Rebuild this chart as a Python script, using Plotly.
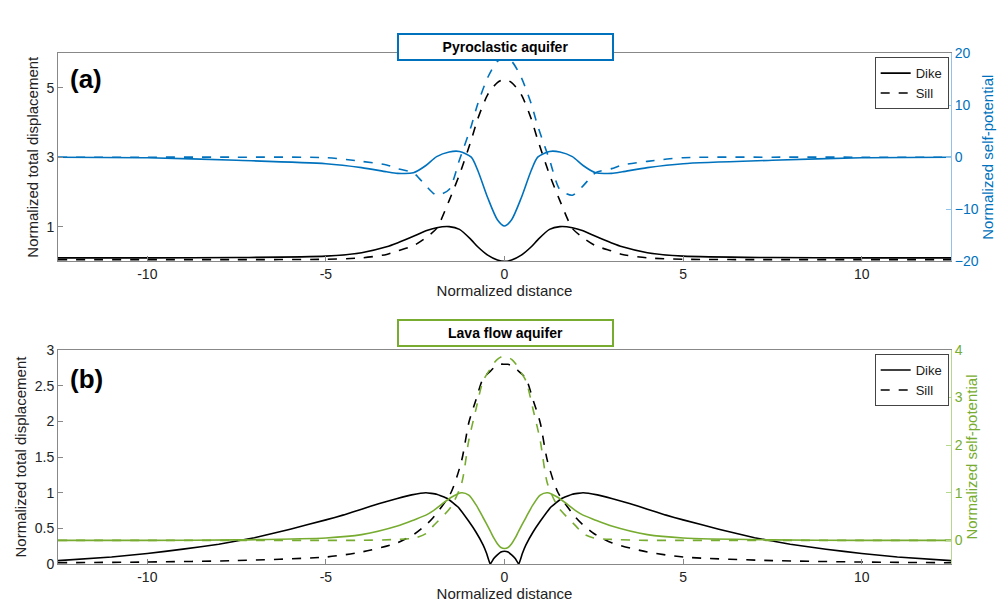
import plotly.graph_objects as go

# ---- panel (a): pyroclastic aquifer (left half, mirrored about x=0) ----
xa = [-12.5, -10, -7.5, -5, -4, -3.3, -3, -2.55, -2.2, -1.9, -1.55, -1.26, -0.93, -0.75, -0.47, -0.2, 0]
dike_a = [0.1, 0.1, 0.11, 0.15, 0.25, 0.42, 0.53, 0.72, 0.88, 0.97, 1.0, 0.92, 0.62, 0.42, 0.18, 0.04, 0.0]
sill_a = [0.05, 0.05, 0.05, 0.06, 0.1, 0.2, 0.3, 0.45, 0.68, 0.95, 1.75, 2.5, 3.5, 4.1, 4.8, 5.15, 5.24]
sp_dike_a = [0.0, -0.1, -0.6, -1.25, -2.0, -2.8, -3.1, -3.0, -1.6, 0.1, 1.0, 1.1, 0.0, -2.5, -7.8, -12.0, -13.2]
sp_sill_a = [0.0, 0.0, 0.0, -0.1, -0.8, -1.5, -2.2, -3.0, -5.5, -7.3, -6.2, -0.5, 6.0, 10.2, 15.3, 18.4, 19.0]

# ---- panel (b): lava flow aquifer ----
xb = [-12.5, -10, -7.5, -5, -4, -3, -2.5, -2.2, -2, -1.5, -1.2, -1.0, -0.8, -0.6, -0.4, -0.3, -0.2, -0.1, 0]
sill_b = [0.02, 0.03, 0.05, 0.1, 0.17, 0.3, 0.43, 0.55, 0.65, 1.0, 1.45, 1.98, 2.3, 2.6, 2.7, 2.75, 2.78, 2.8, 2.8]
sp_dike_b = [0.0, 0.0, 0.01, 0.05, 0.12, 0.3, 0.44, 0.53, 0.62, 0.9, 1.0, 0.95, 0.75, 0.48, 0.2, 0.05, -0.07, -0.15, -0.17]
sp_sill_b = [0.0, 0.0, 0.0, 0.0, 0.0, 0.02, 0.05, 0.14, 0.3, 0.7, 1.2, 2.1, 2.75, 3.35, 3.6, 3.72, 3.8, 3.85, 3.86]
xb_dike = [-12.5, -11, -10, -9, -8, -7, -6, -5, -4.5, -4, -3.5, -3, -2.6, -2.2, -1.9, -1.6, -1.3,
           -1.0, -0.8, -0.6, -0.5, -0.4, -0.3, -0.2, -0.1, 0]
dike_b = [0.05, 0.1, 0.15, 0.21, 0.28, 0.37, 0.49, 0.62, 0.69, 0.77, 0.85, 0.92, 0.97, 1.0, 0.98, 0.92,
          0.8, 0.6, 0.45, 0.27, 0.15, 0.0, 0.08, 0.13, 0.17, 0.18]


def mirror(x, y):
    return x + [-v for v in x[::-1]][1:], y + y[::-1][1:]


BLUE = '#0072BD'
GREEN = '#77AC30'
FONT = 'Liberation Sans, Arial, sans-serif'

fig = go.Figure()


def add(x, y, xax, yax, color, dash, smooth=0.7):
    mx, my = mirror(x, y)
    fig.add_trace(go.Scatter(x=mx, y=my, mode='lines', xaxis=xax, yaxis=yax,
                             line=dict(color=color, width=1.6, dash=dash, shape='spline', smoothing=smooth),
                             showlegend=False, hoverinfo='skip'))


add(xa, dike_a, 'x', 'y', 'black', 'solid')
add(xa, sill_a, 'x', 'y', 'black', 'dash')
add(xa, sp_dike_a, 'x', 'y2', BLUE, 'solid')
add(xa, sp_sill_a, 'x', 'y2', BLUE, 'dash')
add(xb_dike, dike_b, 'x2', 'y3', 'black', 'solid', 0.3)
add(xb, sill_b, 'x2', 'y3', 'black', 'dash')
add(xb, sp_dike_b, 'x2', 'y4', GREEN, 'solid')
add(xb, sp_sill_b, 'x2', 'y4', GREEN, 'dash')

# legend entries
for leg, xax, yax in [('legend', 'x', 'y'), ('legend2', 'x2', 'y3')]:
    for name, dash in [('Dike', 'solid'), ('Sill', 'dash')]:
        fig.add_trace(go.Scatter(x=[None], y=[None], mode='lines', name=name, legend=leg,
                                 xaxis=xax, yaxis=yax, line=dict(color='black', width=1.6, dash=dash)))

xd = [50 / 1005, 943 / 1005]
da = [1 - 252 / 607, 1 - 38 / 607]
db = [1 - 563 / 607, 1 - 343 / 607]

xcommon = dict(range=[-12.5, 12.5], tickvals=[-10, -5, 0, 5, 10], ticktext=['-10', '-5', '0', '5', '10'],
               ticks='inside', ticklen=5, showgrid=False, zeroline=False, showline=True,
               linecolor='#888', mirror=True, tickcolor='#888', domain=xd,
               title=dict(text='Normalized distance', standoff=2, font=dict(size=15)))
ycommon = dict(ticks='inside', ticklen=5, showgrid=False, zeroline=False, showline=True,
               linecolor='#888', tickcolor='#888')

fig.update_layout(
    width=1005, height=607, margin=dict(l=0, r=0, t=0, b=0),
    plot_bgcolor='white', paper_bgcolor='white',
    font=dict(family=FONT, size=14, color='#222'),
    xaxis=dict(xcommon, anchor='y'),
    xaxis2=dict(xcommon, anchor='y3'),
    yaxis=dict(ycommon, domain=da, range=[0, 6], tickvals=[1, 3, 5], anchor='x',
               title=dict(text='Normalized total displacement', font=dict(size=15), standoff=4)),
    yaxis2=dict(ycommon, overlaying='y', side='right', anchor='x', range=[-20, 20],
                tickvals=[-20, -10, 0, 10, 20], linecolor='#8fc3ea', tickcolor='#8fc3ea',
                tickfont=dict(color=BLUE),
                title=dict(text='Normalized self-potential', font=dict(size=15, color=BLUE), standoff=4)),
    yaxis3=dict(ycommon, domain=db, range=[0, 3], tickvals=[0, 0.5, 1, 1.5, 2, 2.5, 3],
                ticktext=['0', '0.5', '1', '1.5', '2', '2.5', '3'], anchor='x2',
                title=dict(text='Normalized total displacement', font=dict(size=15), standoff=4)),
    yaxis4=dict(ycommon, overlaying='y3', side='right', anchor='x2', range=[-0.5, 4],
                tickvals=[0, 1, 2, 3, 4], linecolor='#b5d98c', tickcolor='#b5d98c',
                tickfont=dict(color=GREEN),
                title=dict(text='Normalized self-potential', font=dict(size=15, color=GREEN), standoff=4)),
    legend=dict(x=0.936, y=da[1] - 0.007, xanchor='right', yanchor='top', bgcolor='white',
                bordercolor='#444', borderwidth=1, font=dict(size=13), tracegroupgap=0,
                itemwidth=30),
    legend2=dict(x=0.936, y=db[1] - 0.007, xanchor='right', yanchor='top', bgcolor='white',
                 bordercolor='#444', borderwidth=1, font=dict(size=13), tracegroupgap=0,
                 itemwidth=30),
    annotations=[
        dict(text='<b>Pyroclastic aquifer</b>', x=0.495, y=1 - 17 / 607, xref='paper', yref='paper',
             showarrow=False, font=dict(size=14, color='black'), bordercolor=BLUE, borderwidth=2,
             borderpad=4, bgcolor='white', width=205),
        dict(text='<b>Lava flow aquifer</b>', x=0.495, y=1 - 326 / 607, xref='paper', yref='paper',
             showarrow=False, font=dict(size=14, color='black'), bordercolor=GREEN, borderwidth=2,
             borderpad=4, bgcolor='white', width=205),
        dict(text='<b>(a)</b>', x=0.06, y=da[1] - 0.015, xref='paper', yref='paper', xanchor='left',
             yanchor='top', showarrow=False, font=dict(size=26, color='black')),
        dict(text='<b>(b)</b>', x=0.06, y=db[1] - 0.02, xref='paper', yref='paper', xanchor='left',
             yanchor='top', showarrow=False, font=dict(size=26, color='black')),
    ],
)

fig.write_html('out.html')
